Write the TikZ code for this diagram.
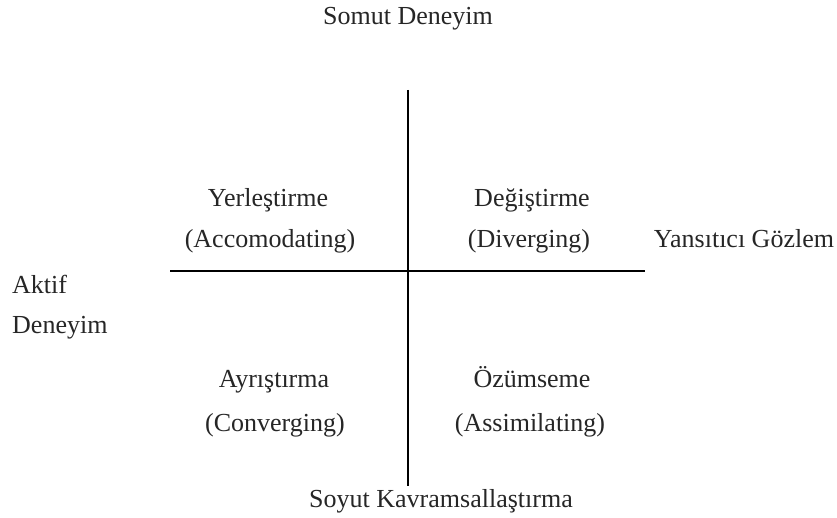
\documentclass[tikz,border=0pt]{standalone}
\usepackage{fontspec}
\setmainfont{Liberation Serif}
\begin{document}
\begin{tikzpicture}[x=1pt,y=-1pt,
  lbl/.style={anchor=base,inner sep=0pt,font=\fontsize{26}{30}\selectfont,text=black!85},
  axis/.style={line width=1.6pt,black}]
\useasboundingbox (0,0) rectangle (837,518);
\coordinate (vtop) at (408,90);
\coordinate (vbot) at (408,486);
\coordinate (hl) at (170,271);
\coordinate (hr) at (645,271);
\draw[axis] (vtop) -- (vbot);
\draw[axis] (hl) -- (hr);
\node[lbl] (somut) at (408,25) {Somut Deneyim};
\node[lbl] (soyut) at (441,507) {Soyut Kavramsallaştırma};
\node[lbl] (yans) at (744,248) {Yansıtıcı Gözlem};
\node[lbl,anchor=base west] (aktif) at (12,294) {Aktif};
\node[lbl,anchor=base west] (deney) at (12,333) {Deneyim};
\node[lbl] (yer) at (268,207) {Yerleştirme};
\node[lbl] (acc) at (270,248) {(Accomodating)};
\node[lbl] (deg) at (532,207) {Değiştirme};
\node[lbl] (div) at (529,248) {(Diverging)};
\node[lbl] (ayr) at (274,387) {Ayrıştırma};
\node[lbl] (con) at (275,431) {(Converging)};
\node[lbl] (ozu) at (532,387) {Özümseme};
\node[lbl] (ass) at (530,431) {(Assimilating)};
\end{tikzpicture}
\end{document}
